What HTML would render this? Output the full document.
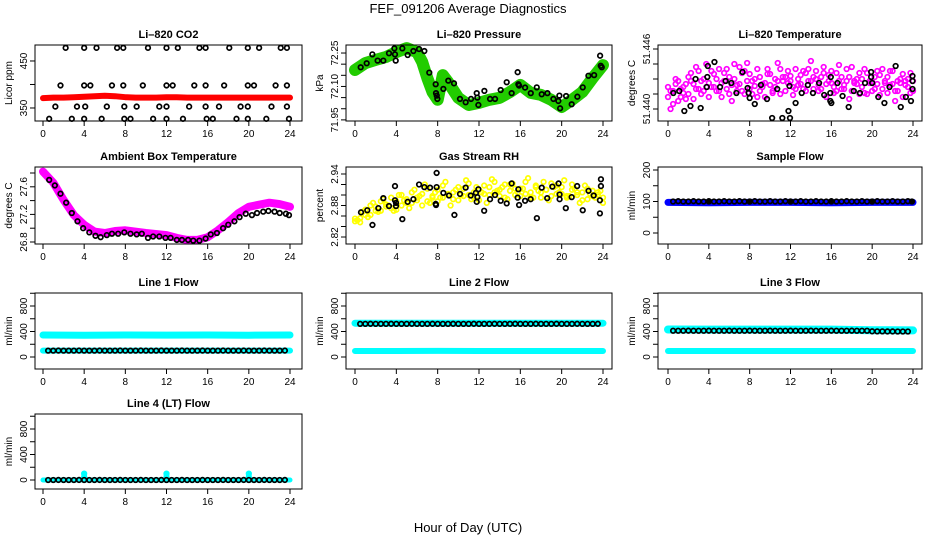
<!DOCTYPE html>
<html><head><meta charset="utf-8"><title>FEF_091206 Average Diagnostics</title>
<style>
html,body{margin:0;padding:0;background:#fff;}
svg{display:block;font-family:"Liberation Sans",Arial,sans-serif;}
</style></head>
<body>
<svg id="chart" width="936" height="540" viewBox="0 0 936 540" xmlns="http://www.w3.org/2000/svg">
<rect x="0" y="0" width="936" height="540" fill="#fff"/>
<text x="468" y="13" font-size="13" text-anchor="middle">FEF_091206  Average Diagnostics</text>
<text x="468" y="532" font-size="13" text-anchor="middle">Hour of Day (UTC)</text>
</svg>
<script>
// ---------- shared x categories ----------
const hourTicks = [0,4,8,12,16,20,24];
const hrsHalf = Array.from({length:49},(_, i)=>i*0.5);
const hrsQuarter = Array.from({length:48},(_, i)=>i*0.5+0.25);
const hrsBlack = Array.from({length:47},(_, i)=>0.5+i*0.5);
const hrsBandFlat = [0,4,8,12,16,20,24];

// ---------- CO2 ----------
const co2RedHrs = [0,1,2,3,4,5,6,7,8,9,10,11,12,13,14,15,16,17,18,19,20,21,22,23,24];
const co2RedVals = [371,372,372,373,374,375,376,375,373,372,372,372,373,373,372,372,372,372,372,372,372,372,372,372,372];
const co2BlackHrs = [2.2,4.0,5.2,7.2,7.8,10.2,12.0,13.1,15.2,15.8,18.1,19.9,21.0,23.1,23.7,
  1.7,4.0,4.6,6.7,7.8,9.7,12.0,12.6,14.7,15.8,17.6,19.9,20.5,22.6,23.7,
  1.2,3.3,4.1,6.2,7.9,9.1,11.3,12.0,14.2,15.8,17.1,19.2,19.9,22.2,23.7,
  0.6,2.8,4.0,5.7,7.9,8.5,10.7,12.0,13.6,15.9,16.5,18.8,19.9,21.7,23.9];
const co2BlackVals = [478,478,478,478,478,478,478,478,478,478,478,478,478,478,478,
  398,398,398,398,398,398,398,398,398,398,398,398,398,398,398,
  353,353,353,353,353,353,353,353,353,353,353,353,353,353,353,
  327,327,327,327,327,327,327,327,327,327,327,327,327,327,327];

// ---------- Pressure ----------
const presGreenHrs = [0,1,2,3,4,5,6,6.5,7,7.5,8,8.5,9,10,11,12,13,14,15,16,17,18,19,20,21,22,23,24];
const presGreenVals = [72.174,72.205,72.219,72.232,72.254,72.272,72.254,72.210,72.138,72.075,72.040,72.151,72.120,72.049,72.017,72.026,72.040,72.049,72.075,72.107,72.071,72.062,72.040,72.008,72.040,72.075,72.138,72.196];
const presBlackHrs = [0.55,1.13,1.68,2.19,2.74,3.29,3.81,3.87,3.94,4.58,5.10,5.65,6.20,6.71,7.19,7.81,7.84,7.91,7.97,8.55,9.03,9.58,10.16,10.71,11.23,11.78,11.84,11.94,12.52,13.07,13.55,14.10,14.68,15.16,15.74,15.81,15.88,16.46,17.01,17.59,18.07,18.62,19.20,19.68,19.78,19.85,20.43,20.97,21.52,22.04,22.59,23.14,23.72,23.78,23.88];
const presBlackVals = [72.186,72.204,72.244,72.216,72.216,72.249,72.271,72.244,72.216,72.271,72.241,72.259,72.268,72.259,72.162,72.110,72.070,72.059,72.044,72.089,72.126,72.114,72.044,72.029,72.044,72.070,72.050,72.017,72.080,72.044,72.044,72.084,72.119,72.070,72.164,72.110,72.104,72.095,72.070,72.096,72.065,72.070,72.044,72.035,72.059,72.002,72.057,72.020,72.054,72.096,72.148,72.151,72.238,72.193,72.186];

// ---------- Li-820 Temperature ----------
const ltMag1 = [51.4412,51.4418,51.4408,51.4422,51.4415,51.4425,51.4420,51.4430,51.4412,51.4435,51.4440,51.4428,51.4432,51.4445,51.4425,51.4438,51.4420,51.4430,51.4418,51.4426,51.4435,51.4422,51.4415,51.4432,51.4428,51.4440,51.4425,51.4436,51.4448,51.4430,51.4420,51.4425,51.4438,51.4418,51.4432,51.4428,51.4442,51.4425,51.4430,51.4415,51.4427,51.4438,51.4420,51.4432,51.4425,51.4418,51.4435,51.4422,51.4428];
const ltMag2 = [51.4422,51.4405,51.4428,51.4416,51.4432,51.4410,51.4438,51.4418,51.4426,51.4422,51.4418,51.4436,51.4415,51.4430,51.4442,51.4415,51.4435,51.4423,51.4432,51.4412,51.4424,51.4430,51.4440,51.4418,51.4433,51.4420,51.4434,51.4418,51.4428,51.4438,51.4432,51.4412,51.4426,51.4436,51.4420,51.4440,51.4418,51.4430,51.4422,51.4436,51.4418,51.4425,51.4440,51.4416,51.4438,51.4428,51.4412,51.4430,51.4418];
const ltMag3 = [51.4418,51.4430,51.4412,51.4425,51.4436,51.4420,51.4428,51.4445,51.4422,51.4430,51.4412,51.4440,51.4424,51.4418,51.4436,51.4428,51.4415,51.4440,51.4425,51.4435,51.4418,51.4446,51.4428,51.4438,51.4422,51.4430,51.4420,51.4440,51.4432,51.4418,51.4436,51.4428,51.4422,51.4444,51.4420,51.4432,51.4426,51.4415,51.4440,51.4428,51.4420,51.4434,51.4426,51.4438,51.4418,51.4430,51.4424,51.4436];
const ltMag4 = [51.4400,51.4425,51.4420,51.4410,51.4428,51.4442,51.4415,51.4422,51.4438,51.4418,51.4426,51.4420,51.4408,51.4424,51.4418,51.4446,51.4428,51.4412,51.4422,51.4440,51.4416,51.4428,51.4432,51.4426,51.4414,51.4424,51.4438,51.4428,51.4420,51.4424,51.4442,51.4434,51.4416,51.4428,51.4424,51.4410,51.4428,51.4436,51.4416,51.4426,51.4432,51.4414,51.4428,51.4424,51.4408,51.4426,51.4428,51.4416];
const ltBlackHrs = [0.52,1.1,1.6,2.2,3.2,2.7,3.8,3.85,3.9,4.55,5.1,5.65,6.2,6.7,7.3,7.8,7.9,8.0,8.5,9.1,9.7,10.2,10.7,11.2,11.8,11.9,11.95,12.5,13.1,13.7,14.2,14.8,15.3,15.9,15.9,15.95,16.0,16.6,17.1,17.7,18.2,18.8,19.3,19.9,19.9,20.0,20.6,21.2,21.7,22.3,22.8,23.3,23.8,23.95,23.95,23.95];
const ltBlackVals = [51.4416,51.4418,51.4398,51.4403,51.4401,51.4430,51.4422,51.4432,51.4443,51.4447,51.4422,51.4428,51.4426,51.4416,51.4437,51.4421,51.4416,51.4411,51.4405,51.4424,51.4410,51.4391,51.4420,51.4391,51.4398,51.4423,51.4391,51.4406,51.4416,51.4424,51.4416,51.4426,51.4414,51.4416,51.4408,51.4432,51.4406,51.4426,51.4413,51.4402,51.4418,51.4416,51.4426,51.4432,51.4437,51.4426,51.4412,51.4406,51.4422,51.4443,51.4402,51.4412,51.4408,51.4420,51.4428,51.4433];

// ---------- Ambient box temperature ----------
const ambMagHrs = [0,1,2,3,4,5,6,7,8,10,12,13,14,15,16,17,18,19,20,21,22,23,24];
const ambMagVals = [27.82,27.66,27.41,27.19,27.05,26.95,26.93,26.96,26.97,26.93,26.90,26.86,26.83,26.83,26.87,26.97,27.09,27.22,27.31,27.34,27.37,27.35,27.31];
const ambBlackHrs = [0.6,1.15,1.7,2.25,2.8,3.35,3.9,4.5,5.1,5.6,6.2,6.7,7.3,7.9,8.5,9.1,9.6,10.2,10.7,11.3,11.9,12.4,13.0,13.5,14.1,14.6,15.2,15.8,16.3,16.9,17.5,18.0,18.6,19.1,19.7,20.3,20.8,21.4,21.9,22.5,23.0,23.6,23.9];
const ambBlackVals = [27.70,27.62,27.50,27.37,27.22,27.10,27.00,26.94,26.89,26.87,26.90,26.92,26.92,26.94,26.92,26.91,26.92,26.86,26.88,26.88,26.86,26.86,26.83,26.83,26.83,26.82,26.82,26.85,26.91,26.93,27.00,27.05,27.10,27.16,27.21,27.19,27.22,27.24,27.25,27.24,27.22,27.21,27.19];

// ---------- Gas stream RH ----------
const rhYel1 = [2.850,2.856,2.872,2.862,2.878,2.870,2.882,2.875,2.888,2.880,2.892,2.885,2.895,2.902,2.888,2.898,2.910,2.895,2.902,2.905,2.890,2.912,2.900,2.895,2.910,2.902,2.915,2.905,2.898,2.920,2.908,2.900,2.912,2.902,2.895,2.915,2.905,2.910,2.898,2.918,2.902,2.895,2.910,2.900,2.905,2.892,2.908,2.900,2.895];
const rhYel2 = [2.855,2.848,2.862,2.880,2.870,2.888,2.878,2.895,2.872,2.900,2.885,2.905,2.890,2.880,2.912,2.895,2.888,2.918,2.900,2.892,2.915,2.898,2.922,2.905,2.890,2.918,2.900,2.925,2.910,2.895,2.920,2.912,2.898,2.925,2.905,2.918,2.895,2.910,2.922,2.902,2.915,2.898,2.920,2.905,2.890,2.912,2.898,2.905,2.885];
const rhYel3 = [2.852,2.868,2.858,2.885,2.868,2.892,2.880,2.870,2.900,2.890,2.875,2.910,2.898,2.920,2.885,2.905,2.895,2.925,2.880,2.910,2.900,2.928,2.892,2.915,2.905,2.885,2.930,2.908,2.915,2.892,2.922,2.905,2.912,2.932,2.895,2.908,2.925,2.890,2.915,2.905,2.928,2.898,2.912,2.885,2.918,2.902,2.895,2.908];
const rhBlackHrs = [0.58,1.19,1.69,2.26,2.74,3.29,3.87,3.87,3.97,3.97,4.58,5.1,5.65,6.2,6.71,7.26,7.81,7.84,7.9,7.9,8.55,9.1,9.62,10.16,10.71,11.2,11.7,11.78,11.84,11.94,12.5,13.07,13.55,14.1,14.68,15.16,15.74,15.81,15.88,16.46,17.0,17.6,18.07,18.6,19.1,19.7,19.8,19.8,20.4,20.97,21.5,22.04,22.6,23.1,23.7,23.7,23.8,23.8];
const rhBlackVals = [2.867,2.871,2.843,2.875,2.894,2.879,2.917,2.890,2.885,2.879,2.854,2.887,2.892,2.920,2.915,2.914,2.883,2.881,2.942,2.915,2.904,2.899,2.862,2.902,2.914,2.899,2.904,2.887,2.896,2.911,2.870,2.892,2.900,2.889,2.884,2.922,2.895,2.911,2.881,2.889,2.892,2.856,2.914,2.894,2.916,2.922,2.901,2.892,2.875,2.896,2.917,2.871,2.908,2.899,2.865,2.890,2.917,2.930];

// ---------- Sample flow ----------
const sfBlueVals = [97,96,97,97,96,97,97];
const sfBlackVals = [100,101,100,100,101,100,100,101,100,100,101,100,100,101,100,100,101,100,100,101,100,100,101,100,100,101,100,100,101,100,100,101,100,100,101,100,100,101,100,100,101,100,100,101,100,100,101];
const sfFilledHrs = [4,8,12,16,20,23.9];
const sfFilledVals = [100,100,100,100,100,100];

// ---------- Line flows ----------
const l1CyanHi = [345,342,345,344,345,342,345];
const l1CyanLo = [100,100,100,100,100,100,100];
const l1Black = [100,100,101,100,100,100,101,100,100,100,101,100,100,100,101,100,100,100,101,100,100,100,101,100,100,100,101,100,100,100,101,100,100,100,101,100,100,100,101,100,100,100,101,100,100,100,101];
const l2CyanHi = [530,530,530,530,530,530,530];
const l2CyanLo = [95,95,96,95,95,95,95];
const l2Black = [520,520,521,520,520,520,521,520,520,520,521,520,520,520,521,520,520,520,521,520,520,520,521,520,520,520,521,520,520,520,521,520,520,520,521,520,520,520,521,520,520,520,521,520,520,520,521];
const l3CyanHi = [432,430,430,430,430,420,418];
const l3CyanLo = [95,95,95,95,95,95,95];
const l3Black = [412,412,412,413,412,412,412,413,412,412,412,413,412,412,412,413,412,412,412,413,412,412,412,413,412,412,412,413,412,412,412,413,412,412,412,413,412,412,412,403,402,402,401,401,400,400,400];
const l4CyanHrs = [0,3.9,4.0,4.1,11.9,12.0,12.1,19.9,20.0,20.1,24];
const l4CyanVals = [0,0,100,0,0,100,0,0,100,0,0];
const l4Black = [0,0,1,0,0,0,1,0,0,0,1,0,0,0,1,0,0,0,1,0,0,0,1,0,0,0,1,0,0,0,1,0,0,0,1,0,0,0,1,0,0,0,1,0,0,0,1];

// ---------- rendering ----------
const NS = "http://www.w3.org/2000/svg";
const svg = document.getElementById('chart');
function mk(tag, attrs, parent){
  const e = document.createElementNS(NS, tag);
  for (const k in attrs) e.setAttribute(k, attrs[k]);
  (parent||svg).appendChild(e);
  return e;
}
const rows = [[45,121],[167,244],[293,369],[414,489]];
const cols = [[35,302,43,290],[346,612,355,603],[658,922,668,913]];

function makePanel(name, r, c, title, ylab, dom, ticks, labels){
  const [top,bot] = rows[r];
  const [bl,br,x0,x24] = cols[c];
  const g = mk('g', {});
  
  
  const xs = h => x0 + (x24-x0)*h/24;
  const ys = v => bot - (v-dom[0])/(dom[1]-dom[0])*(bot-top);
  const t = mk('text', {x:(bl+br)/2, y:top-7, 'font-size':11, 'font-weight':'bold', 'text-anchor':'middle'}, g);
  t.textContent = title;
  
  
  const yl = mk('text', {x:0, y:0, 'font-size':10, 'text-anchor':'middle', transform:`translate(${bl-23},${(top+bot)/2}) rotate(-90)`}, g);
  yl.textContent = ylab;
  
  
  const plot = mk('g', {}, g);
  
  
  const frame = mk('rect', {x:bl, y:top, width:br-bl, height:bot-top, fill:'none', stroke:'#000', 'stroke-width':1}, g);
  
  
  const xa = mk('g', {}, g);
  
  
  mk('line', {x1:xs(0), x2:xs(24), y1:bot, y2:bot, stroke:'#000'}, xa);
  hourTicks.forEach(h => {
    mk('line', {x1:xs(h), x2:xs(h), y1:bot, y2:bot+5, stroke:'#000'}, xa);
    const tl = mk('text', {x:xs(h), y:bot+16, 'font-size':10, 'text-anchor':'middle'}, xa);
    tl.textContent = h;
    
    
  });
  const ya = mk('g', {}, g);
  
  
  mk('line', {x1:bl, x2:bl, y1:ys(ticks[0]), y2:ys(ticks[ticks.length-1]), stroke:'#000'}, ya);
  ticks.forEach((v,i) => {
    mk('line', {x1:bl-5, x2:bl, y1:ys(v), y2:ys(v), stroke:'#000'}, ya);
    if (labels[i]) {
      const tl = mk('text', {x:0, y:0, 'font-size':10, 'text-anchor':'middle', transform:`translate(${bl-8},${ys(v)}) rotate(-90)`}, ya);
      tl.textContent = labels[i];
      
      
    }
  });
  return {plot, xs, ys};
}
function circles(p, hrs, vals, color, seriesName, filled){
  const g = mk('g', {}, p.plot);
  
  
  vals.forEach((v,i) => {
    const c = mk('circle', {cx:p.xs(hrs[i]), cy:p.ys(v), r:2.3, fill: filled ? color : 'none', stroke:color, 'stroke-width':1.7}, g);
    
    
  });
}
function band(p, hrs, vals, color, w, seriesName){
  const pts = vals.map((v,i) => p.xs(hrs[i]).toFixed(1)+','+p.ys(v).toFixed(1)).join(' ');
  const l = mk('polyline', {points:pts, fill:'none', stroke:color, 'stroke-width':w, 'stroke-linejoin':'round', 'stroke-linecap':'round'}, p.plot);
  
  
}

// Li-820 CO2
let p = makePanel('co2', 0, 0, 'Li\u2013820 CO2', 'Licor ppm', [322.3,484], [350,400,450], ['350','','450']);
band(p, co2RedHrs, co2RedVals, '#ff0000', 6, 'co2-red-series');
circles(p, co2BlackHrs, co2BlackVals, '#000', 'co2-black-series');

// Pressure
p = makePanel('pressure', 0, 1, 'Li\u2013820 Pressure', 'kPa', [71.945,72.286], [71.95,72.00,72.05,72.10,72.15,72.20,72.25], ['71.95','','','72.10','','','72.25']);
band(p, presGreenHrs, presGreenVals, '#22cc00', 12, 'pressure-green-series');
circles(p, presBlackHrs, presBlackVals, '#000', 'pressure-black-series');

// Li-820 Temperature
p = makePanel('li-temp', 0, 2, 'Li\u2013820 Temperature', 'degrees C', [51.4388,51.4464], [51.440,51.4415,51.443,51.4445,51.446], ['51.440','','','','51.446']);
circles(p, hrsHalf, ltMag1, '#ff00ff', 'li-temp-magenta-series-1');
circles(p, hrsHalf, ltMag2, '#ff00ff', 'li-temp-magenta-series-2');
circles(p, hrsQuarter, ltMag3, '#ff00ff', 'li-temp-magenta-series-3');
circles(p, hrsQuarter, ltMag4, '#ff00ff', 'li-temp-magenta-series-4');
circles(p, ltBlackHrs, ltBlackVals, '#000', 'li-temp-black-series');

// Ambient box temperature
p = makePanel('ambient-temp', 1, 0, 'Ambient Box Temperature', 'degrees C', [26.771,27.887], [26.8,27.0,27.2,27.4,27.6,27.8], ['26.8','','27.2','','27.6','']);
band(p, ambMagHrs, ambMagVals, '#ff00ff', 8, 'ambient-magenta-series');
circles(p, ambBlackHrs, ambBlackVals, '#000', 'ambient-black-series');

// Gas stream RH
p = makePanel('gas-rh', 1, 1, 'Gas Stream RH', 'percent', [2.8067,2.9533], [2.82,2.84,2.86,2.88,2.90,2.92,2.94], ['2.82','','','2.88','','','2.94']);
circles(p, hrsHalf, rhYel1, '#ffff00', 'rh-yellow-series-1');
circles(p, hrsHalf, rhYel2, '#ffff00', 'rh-yellow-series-2');
circles(p, hrsQuarter, rhYel3, '#ffff00', 'rh-yellow-series-3');
circles(p, rhBlackHrs, rhBlackVals, '#000', 'rh-black-series');

// Sample flow
p = makePanel('sample-flow', 1, 2, 'Sample Flow', 'ml/min', [-34.9,209.5], [0,50,100,150,200], ['0','','100','','200']);
band(p, hrsBandFlat, sfBlueVals, '#0000ff', 7, 'sample-flow-blue-series');
circles(p, hrsBlack, sfBlackVals, '#000', 'sample-flow-black-series');
circles(p, sfFilledHrs, sfFilledVals, '#000', 'sample-flow-filled-series', true);

// Line flows
const flowTicks = [0,200,400,600,800,1000];
const flowLabels = ['0','','400','','800',''];
p = makePanel('line1-flow', 2, 0, 'Line 1 Flow', 'ml/min', [-188,1004], flowTicks, flowLabels);
band(p, hrsBandFlat, l1CyanHi, '#00ffff', 7, 'line1-cyan-high-series');
band(p, hrsBandFlat, l1CyanLo, '#00ffff', 6, 'line1-cyan-low-series');
circles(p, hrsBlack, l1Black, '#000', 'line1-black-series');

p = makePanel('line2-flow', 2, 1, 'Line 2 Flow', 'ml/min', [-188,1004], flowTicks, flowLabels);
band(p, hrsBandFlat, l2CyanHi, '#00ffff', 7, 'line2-cyan-high-series');
band(p, hrsBandFlat, l2CyanLo, '#00ffff', 6, 'line2-cyan-low-series');
circles(p, hrsBlack, l2Black, '#000', 'line2-black-series');

p = makePanel('line3-flow', 2, 2, 'Line 3 Flow', 'ml/min', [-188,1004], flowTicks, flowLabels);
band(p, hrsBandFlat, l3CyanHi, '#00ffff', 8, 'line3-cyan-high-series');
band(p, hrsBandFlat, l3CyanLo, '#00ffff', 6, 'line3-cyan-low-series');
circles(p, hrsBlack, l3Black, '#000', 'line3-black-series');

p = makePanel('line4-flow', 3, 0, 'Line 4 (LT) Flow', 'ml/min', [-141,1035], flowTicks, flowLabels);
band(p, l4CyanHrs, l4CyanVals, '#00ffff', 5, 'line4-cyan-series');
circles(p, [4,12,20], [100,100,100], '#00ffff', 'line4-cyan-spikes');
circles(p, hrsBlack, l4Black, '#000', 'line4-black-series');
</script>
</body></html>
